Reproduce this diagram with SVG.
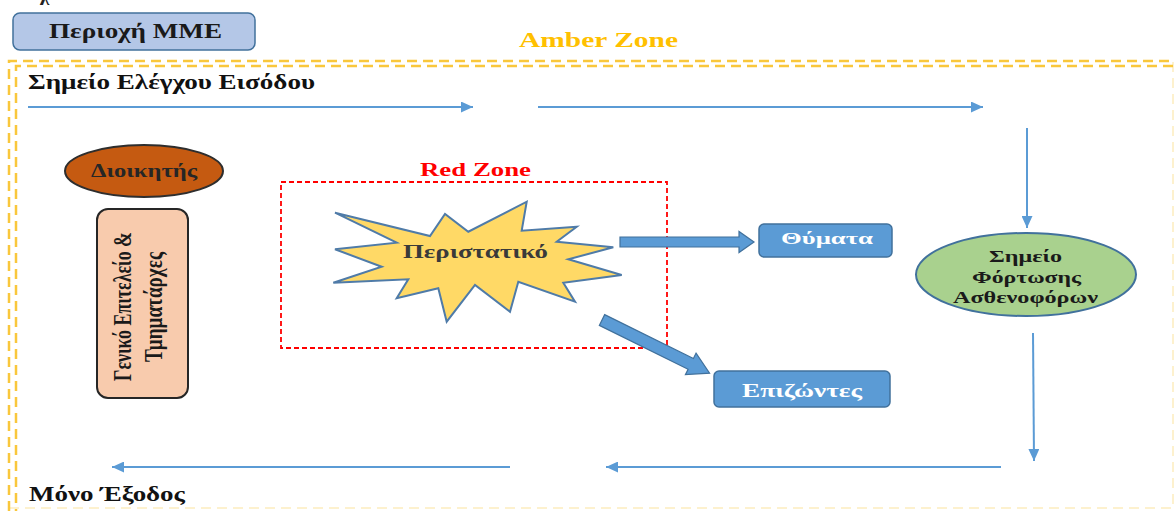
<svg xmlns="http://www.w3.org/2000/svg" width="1175" height="511" viewBox="0 0 1175 511">
  <defs>
    <style>
      .t { font-family: "Liberation Serif", "Times New Roman", serif; font-weight: bold; }
      .amber { fill: none; stroke: #f9c73c; stroke-width: 2.5; stroke-dasharray: 10 6; }
      .amber-faint { fill: none; stroke: #f9c73c; stroke-width: 2; stroke-dasharray: 10 6; opacity: 0.25; }
      .flow { fill: none; stroke: #5b9bd5; stroke-width: 2; }
      .block { fill: #5b9bd5; stroke: #41719c; stroke-width: 1.2; }
      .box-blue { fill: #5b9bd5; stroke: #41719c; stroke-width: 1.5; }
      .white { fill: #ffffff; }
      .staff { font-family: "Liberation Serif", "Times New Roman", serif; font-weight: bold; font-size: 25px; fill: #1a1a1a; }
    </style>
    <marker id="head" markerUnits="userSpaceOnUse" markerWidth="12" markerHeight="11" refX="12" refY="5.5" orient="auto">
      <path d="M0,0 L12,5.5 L0,11 z" fill="#5b9bd5"/>
    </marker>
  </defs>

  <rect width="1175" height="511" fill="#ffffff"/>

  <!-- caption fragment running off the top edge -->
  <text class="t" x="40" y="0" font-size="20" fill="#222">χ</text>

  <!-- media area -->
  <g id="media-area">
    <rect x="13" y="13" width="242" height="37" rx="7" fill="#b4c7e7" stroke="#41719c" stroke-width="1.5"/>
    <text class="t" x="49" y="38" font-size="20" fill="#1a1a1a" textLength="173" lengthAdjust="spacingAndGlyphs">Περιοχή ΜΜΕ</text>
  </g>

  <!-- amber zone boundary (double dashed) -->
  <g id="amber-zone">
    <text class="t" x="519" y="47" font-size="21" fill="#ffc000" textLength="159" lengthAdjust="spacingAndGlyphs">Amber Zone</text>
    <path class="amber" d="M9,511 V61 H1175"/>
    <path class="amber" d="M16,511 V66 H1175" stroke-dashoffset="8"/>
    <path class="amber-faint" d="M9,508 H1173 V61"/>
  </g>

  <!-- route labels -->
  <text class="t" x="28" y="89" font-size="20" fill="#111" textLength="287" lengthAdjust="spacingAndGlyphs">Σημείο Ελέγχου Εισόδου</text>
  <text class="t" x="29" y="501" font-size="20" fill="#111" textLength="156" lengthAdjust="spacingAndGlyphs">Μόνο Έξοδος</text>

  <!-- commander -->
  <g id="commander">
    <ellipse cx="144" cy="171" rx="79" ry="26" fill="#c55a11" stroke="#2e2e2e" stroke-width="2"/>
    <text class="t" x="91" y="177" font-size="18" fill="#262626" textLength="106" lengthAdjust="spacingAndGlyphs">Διοικητής</text>
  </g>

  <!-- general staff -->
  <g id="general-staff">
    <rect x="97" y="209" width="91" height="189" rx="11" fill="#f8cbad" stroke="#262626" stroke-width="2"/>
    <text class="staff" x="0" y="0" transform="translate(131,306.5) rotate(-90)" text-anchor="middle" textLength="149" lengthAdjust="spacingAndGlyphs">Γενικό Επιτελείο &amp;</text>
    <text class="staff" x="0" y="0" transform="translate(162,307) rotate(-90)" text-anchor="middle" textLength="110" lengthAdjust="spacingAndGlyphs">Τμηματάρχες</text>
  </g>

  <!-- red zone -->
  <g id="red-zone">
    <rect x="281" y="182" width="386" height="166" fill="none" stroke="#ff0000" stroke-width="1.8" stroke-dasharray="5 3"/>
    <text class="t" x="420" y="176" font-size="18" fill="#ff0000" textLength="111" lengthAdjust="spacingAndGlyphs">Red Zone</text>
  </g>

  <!-- incident -->
  <g id="incident">
    <polygon points="335,212.7 430,236 445,214 468.3,231.7 526.7,201.7 521.7,230.7 576.7,226.7 556.7,241.7 613.3,247.3 568.3,259.3 621.7,275 563.3,282.7 575,301.7 518.3,281.7 510,311.7 475,285 446.7,321.7 438.3,288.3 396.7,298.3 408.3,279.3 333.3,282.7 381.7,266.7 335,249.3 396.7,242.7" fill="#ffd966" stroke="#4f7ba8" stroke-width="2" stroke-linejoin="miter"/>
    <text class="t" x="403" y="258" font-size="19" fill="#3a3a3a" textLength="145" lengthAdjust="spacingAndGlyphs">Περιστατικό</text>
  </g>

  <!-- victims -->
  <g id="victims">
    <rect class="box-blue" x="759" y="224" width="133" height="33" rx="5"/>
    <text class="t white" x="781" y="244" font-size="17" textLength="92" lengthAdjust="spacingAndGlyphs">Θύματα</text>
  </g>

  <!-- survivors -->
  <g id="survivors">
    <rect class="box-blue" x="714" y="371" width="176" height="36" rx="5"/>
    <text class="t white" x="742" y="397" font-size="18" textLength="120" lengthAdjust="spacingAndGlyphs">Επιζώντες</text>
  </g>

  <!-- ambulance loading point -->
  <g id="ambulance-point">
    <ellipse cx="1026" cy="274.5" rx="110" ry="41.5" fill="#a9d18e" stroke="#41719c" stroke-width="2"/>
    <text class="t" x="989" y="262" font-size="16" fill="#1a1a1a" textLength="73" lengthAdjust="spacingAndGlyphs">Σημείο</text>
    <text class="t" x="972" y="283" font-size="16" fill="#1a1a1a" textLength="109" lengthAdjust="spacingAndGlyphs">Φόρτωσης</text>
    <text class="t" x="953" y="303" font-size="16" fill="#1a1a1a" textLength="145" lengthAdjust="spacingAndGlyphs">Ασθενοφόρων</text>
  </g>

  <!-- connectors -->
  <g id="connectors">
    <!-- entry route -->
    <line class="flow" x1="28" y1="107" x2="473" y2="107" marker-end="url(#head)"/>
    <line class="flow" x1="538" y1="107" x2="983" y2="107" marker-end="url(#head)"/>
    <line class="flow" x1="1027" y1="128" x2="1027" y2="228" marker-end="url(#head)"/>
    <!-- exit route -->
    <line class="flow" x1="1033" y1="333" x2="1034" y2="461" marker-end="url(#head)"/>
    <line class="flow" x1="1001" y1="467" x2="606" y2="467" marker-end="url(#head)"/>
    <line class="flow" x1="510" y1="467" x2="112" y2="467" marker-end="url(#head)"/>
    <!-- block arrows out of the incident -->
    <path class="block" transform="translate(620,242)" d="M0,-5 H119 V-10.5 L134,0 L119,10.5 V5 H0 z"/>
    <path class="block" transform="translate(602,320) rotate(26.3)" d="M0,-6 H99 V-12 L120,0 L99,12 V6 H0 z"/>
  </g>
</svg>
